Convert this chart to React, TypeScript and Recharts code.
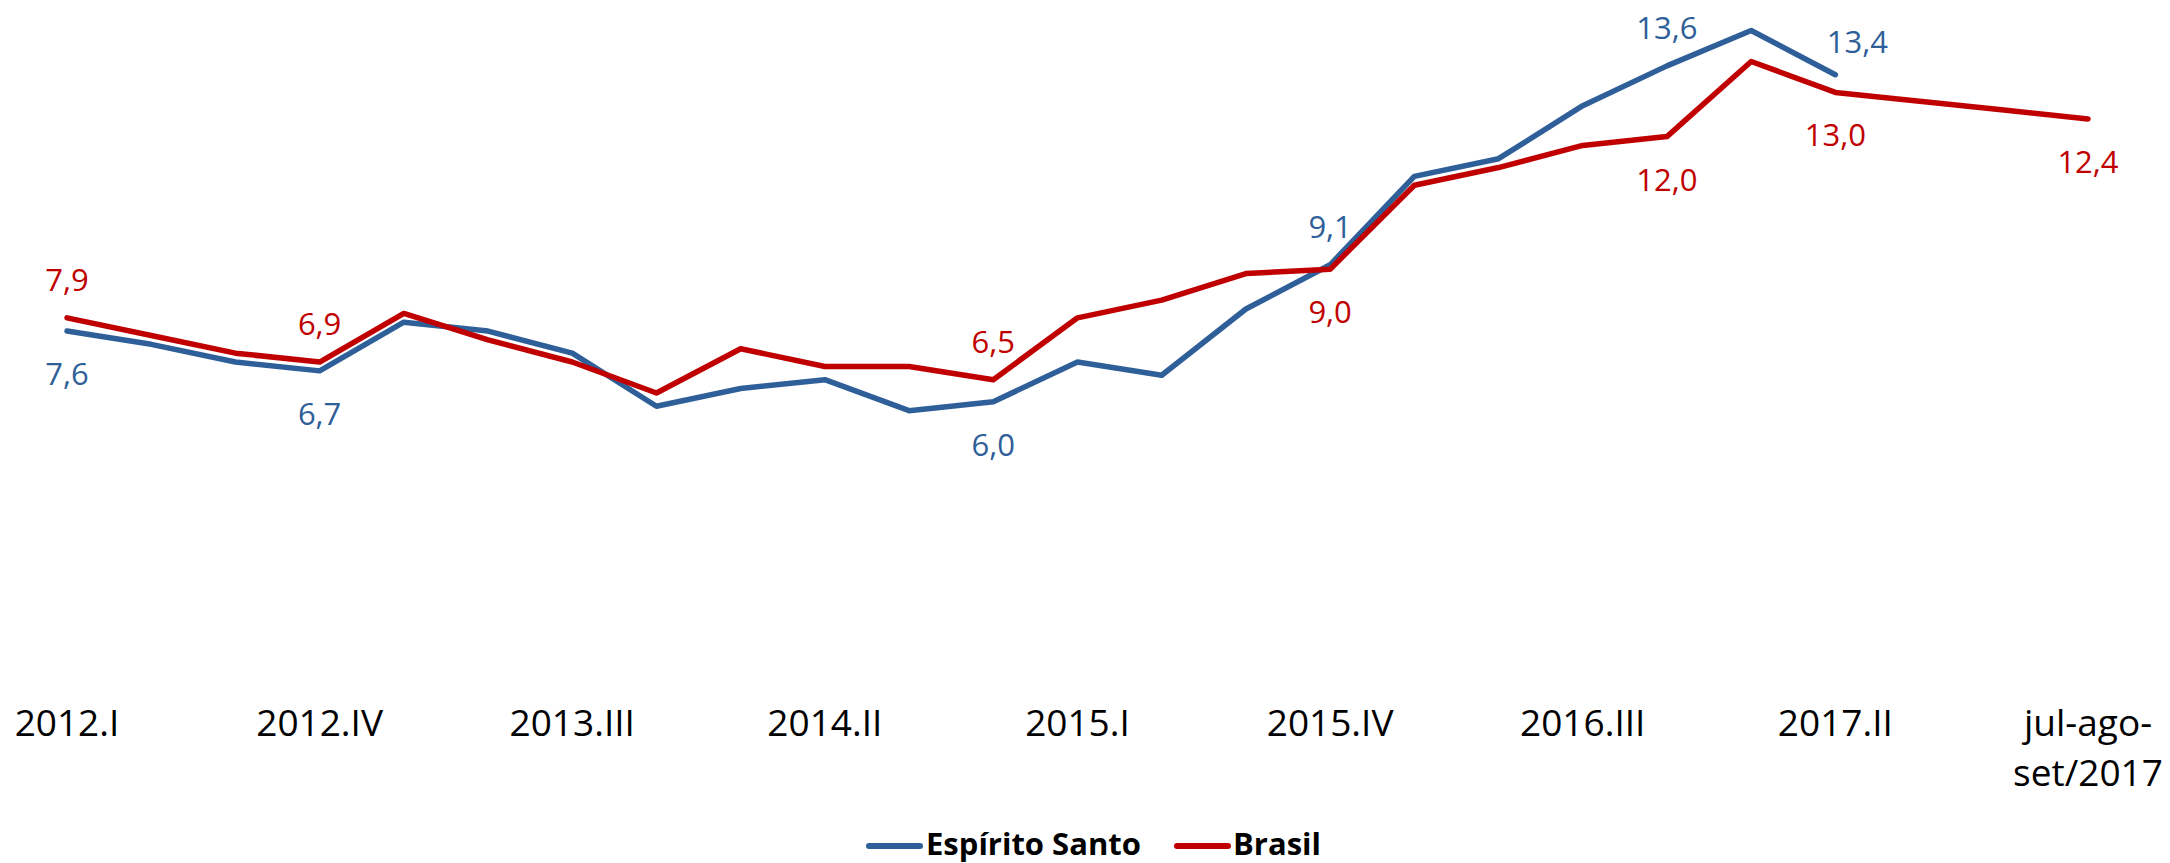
import React from 'react';
import { LineChart, Line, XAxis, YAxis, LabelList } from 'recharts';

const categories = [
  '2012.I', '2012.II', '2012.III', '2012.IV',
  '2013.I', '2013.II', '2013.III', '2013.IV',
  '2014.I', '2014.II', '2014.III', '2014.IV',
  '2015.I', '2015.II', '2015.III', '2015.IV',
  '2016.I', '2016.II', '2016.III', '2016.IV',
  '2017.I', '2017.II', 'mai-jun-jul/2017', 'jun-jul-ago/2017', 'jul-ago-set/2017',
];

const espiritoSanto: (number | null)[] = [
  7.6, 7.3, 6.9, 6.7,
  7.8, 7.6, 7.1, 5.9,
  6.3, 6.5, 5.8, 6.0,
  6.9, 6.6, 8.1, 9.1,
  11.1, 11.5, 12.7, 13.6,
  14.4, 13.4, null, null, null,
];

const brasil: (number | null)[] = [
  7.9, 7.5, 7.1, 6.9,
  8.0, 7.4, 6.9, 6.2,
  7.2, 6.8, 6.8, 6.5,
  7.9, 8.3, 8.9, 9.0,
  10.9, 11.3, 11.8, 12.0,
  13.7, 13.0, 12.8, 12.6, 12.4,
];

// which points carry a value label, and on which side
const esLabels: Record<number, string> = { 0: 'below', 3: 'below', 11: 'below', 15: 'above', 19: 'above', 21: 'aboveRight' };
const brLabels: Record<number, string> = { 0: 'above', 3: 'above', 11: 'above', 15: 'below', 19: 'below', 21: 'below', 24: 'below' };

const data = categories.map((c, i) => ({ cat: c, es: espiritoSanto[i], br: brasil[i] }));

const BLUE = '#2F5F99';
const RED = '#C00000';
const FONT = '"Open Sans", "Noto Sans", sans-serif';

const fmt = (v: number) => v.toFixed(1).replace('.', ',');

const makeLabel = (cfg: Record<number, string>, color: string) => (props: any) => {
  const { x, y, value, index } = props;
  const pos = cfg[index];
  if (!pos || value == null) return null;
  let dx = 0;
  let dy = 0;
  if (pos === 'above') dy = -27;
  else if (pos === 'below') dy = 54;
  else if (pos === 'aboveRight') { dx = 22; dy = -22; }
  return (
    <text x={x + dx} y={y + dy} textAnchor="middle" fill={color} fontSize={31} fontFamily={FONT}>
      {fmt(value)}
    </text>
  );
};

const Tick = (props: any) => {
  const { x, y, payload } = props;
  const label: string = payload.value;
  const lines = label.replace(/-(?=[^-]*\/)/, '-\n').split('\n');
  return (
    <g>
      {lines.map((l, i) => (
        <text key={i} x={x} y={y + 69 + i * 50} textAnchor="middle" fill="#000" fontSize={37} fontFamily={FONT}>
          {l}
        </text>
      ))}
    </g>
  );
};

export default function App() {
  return (
    <div style={{ position: 'absolute', left: 0, top: 0, width: 2170, height: 863, background: '#fff' }}>
      <LineChart width={2170} height={863} data={data} margin={{ top: 4, right: 82, bottom: 46, left: 67 }}>
        <XAxis
          dataKey="cat"
          interval={2}
          axisLine={false}
          tickLine={false}
          tickSize={0}
          tickMargin={0}
          height={150}
          tick={<Tick />}
        />
        <YAxis hide domain={[0, 15]} />
        <Line
          dataKey="es"
          name="Espírito Santo"
          stroke={BLUE}
          strokeWidth={5.5}
          dot={false}
          activeDot={false}
          strokeLinecap="round"
          strokeLinejoin="round"
          isAnimationActive={false}
        >
          <LabelList dataKey="es" content={makeLabel(esLabels, BLUE)} />
        </Line>
        <Line
          dataKey="br"
          name="Brasil"
          stroke={RED}
          strokeWidth={5.5}
          dot={false}
          activeDot={false}
          connectNulls
          strokeLinecap="round"
          strokeLinejoin="round"
          isAnimationActive={false}
        >
          <LabelList dataKey="br" content={makeLabel(brLabels, RED)} />
        </Line>
      </LineChart>
      <svg width={2170} height={863} style={{ position: 'absolute', left: 0, top: 0, pointerEvents: 'none' }}>
        <line x1={869} y1={846} x2={920} y2={846} stroke={BLUE} strokeWidth={6} strokeLinecap="round" />
        <text x={926} y={855} fontSize={31} fontWeight="bold" fontFamily={FONT} fill="#000">Espírito Santo</text>
        <line x1={1177} y1={846} x2={1228} y2={846} stroke={RED} strokeWidth={6} strokeLinecap="round" />
        <text x={1233} y={855} fontSize={31} fontWeight="bold" fontFamily={FONT} fill="#000">Brasil</text>
      </svg>
    </div>
  );
}
